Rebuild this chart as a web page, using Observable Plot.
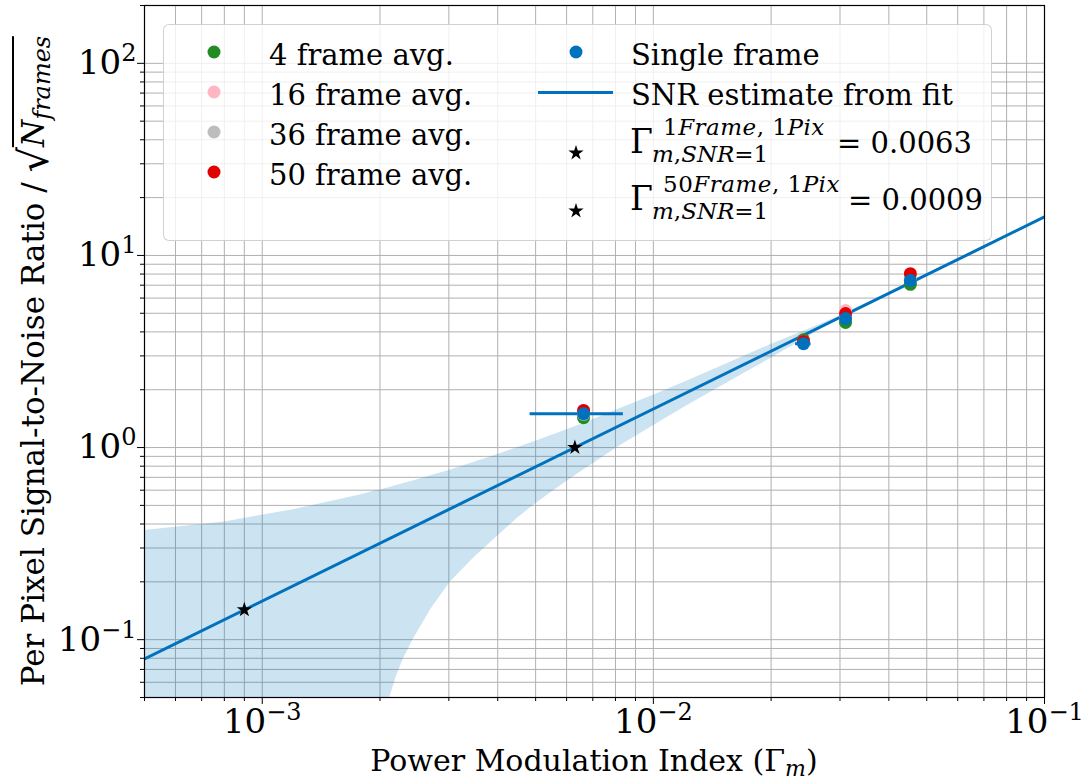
<!DOCTYPE html>
<html>
<head>
<meta charset="utf-8">
<script src="https://cdn.jsdelivr.net/npm/d3@7"></script>
<script src="https://cdn.jsdelivr.net/npm/@observablehq/plot@0.6"></script>
<style>
  body { margin: 0; background: white; }
  #wrap { position: relative; width: 1086px; height: 780px; font-family: 'DejaVu Serif', 'Liberation Serif', serif; color: black; }
  .t { position: absolute; white-space: nowrap; }
  .lg-box { position: absolute; left: 163px; top: 24px; width: 827px; height: 215px;
            background: rgba(255,255,255,0.8); border: 1px solid rgba(204,204,204,0.9); border-radius: 6px; }
  .dotm { position: absolute; width: 13px; height: 13px; border-radius: 50%; transform: translate(-50%,-50%); }
  i { font-style: italic; }
</style>
</head>
<body>
<div id="wrap"><div id="chart"></div></div>
<script>
// ---------------- data ----------------
const gammaPts   = [0.00663, 0.0242, 0.0310, 0.0454];
const snr4       = [1.43, 3.64, 4.48, 7.07];
const snr16      = [1.52, 3.55, 5.17, 7.60];
const snr36      = [1.49, 3.50, 4.75, 7.50];
const snr50      = [1.56, 3.57, 4.98, 8.04];
const snrSingle  = [1.50, 3.47, 4.69, 7.40];
const errLo      = [0.00484, 0.0231, 0.0305, 0.0448];
const errHi      = [0.00838, 0.0253, 0.0315, 0.0460];

const fitGamma = [0.0005, 0.1];
const fitSNR   = [0.0794, 15.87];

const starGamma = [0.0063, 0.0009];
const starSNR   = [1.0, 0.143];

const bandGamma = [0.0005, 0.0008, 0.0012, 0.0016, 0.0018, 0.0019, 0.00195, 0.002, 0.00206, 0.00212,
                   0.0022, 0.0023, 0.00243, 0.0027, 0.00303, 0.0035, 0.0039, 0.0045, 0.005, 0.0058,
                   0.0066, 0.0082, 0.01, 0.012, 0.016, 0.02, 0.022, 0.024, 0.027, 0.03,
                   0.035, 0.04, 0.047, 0.06, 0.08, 0.1];
const bandLow   = [0.001, 0.001, 0.001, 0.001, 0.001, 0.017, 0.025, 0.032, 0.042, 0.05,
                   0.064, 0.08, 0.10, 0.144, 0.2, 0.27, 0.33, 0.43, 0.51, 0.635,
                   0.76, 1.02, 1.3, 1.62, 2.26, 2.92, 3.27, 3.62, 4.15, 4.65,
                   5.47, 6.27, 7.38, 9.44, 12.6, 15.75];
const bandHigh  = [0.37, 0.41, 0.475, 0.54, 0.57, 0.587, 0.595, 0.60, 0.61, 0.62,
                   0.635, 0.65, 0.67, 0.713, 0.765, 0.84, 0.905, 1.0, 1.08, 1.205,
                   1.33, 1.59, 1.87, 2.19, 2.82, 3.44, 3.73, 4.0, 4.42, 4.86,
                   5.63, 6.43, 7.54, 9.6, 12.8, 16.0];

const xMajor = [1e-3, 1e-2, 1e-1];
const yMajor = [0.1, 1, 10, 100];
const xDomain = [5e-4, 0.1];
const yDomain = [0.05, 200];

const seriesNames = ["4 frame avg.", "16 frame avg.", "36 frame avg.", "50 frame avg.", "Single frame"];
const seriesColors = ["#228b22", "#ffb6c1", "#bdbdbd", "#e00000", "#0072bd"];
const blue = "#0072bd";

// ---------------- build ----------------
const FONT = "'DejaVu Serif', 'Liberation Serif', serif";
const xAll = d3.scaleLog().domain(xDomain).ticks();
const yAll = d3.scaleLog().domain(yDomain).ticks();
const xMinor = xAll.filter(v => !xMajor.some(m => Math.abs(m - v) / m < 1e-9));
const yMinor = yAll.filter(v => !yMajor.some(m => Math.abs(m - v) / m < 1e-9));

const band = bandGamma.map((g, i) => ({g, lo: bandLow[i], hi: bandHigh[i]}));
const fit = fitGamma.map((g, i) => ({g, s: fitSNR[i]}));
const stars = starGamma.map((g, i) => ({g, s: starSNR[i]}));
const seriesVals = [snr4, snr16, snr36, snr50, snrSingle];
const pts = seriesVals.map(vals => gammaPts.map((g, i) => ({g, s: vals[i]})));
const errs = gammaPts.map((g, i) => ({lo: errLo[i], hi: errHi[i], s: snrSingle[i]}));

const expFmt = v => "10^" + String(Math.round(Math.log10(v))).replace("-", "\u2212");

const chart = Plot.plot({
  width: 1086, height: 780,
  marginLeft: 144, marginRight: 42, marginTop: 5, marginBottom: 83,
  x: {type: "log", domain: xDomain, label: null},
  y: {type: "log", domain: yDomain, label: null},
  style: {fontFamily: FONT, background: "white", color: "black"},
  marks: [
    Plot.gridX(xAll, {stroke: "#b0b0b0", strokeOpacity: 1, strokeWidth: 1}),
    Plot.gridY(yAll, {stroke: "#b0b0b0", strokeOpacity: 1, strokeWidth: 1}),
    Plot.areaY(band, {x: "g", y1: "lo", y2: "hi", fill: blue, fillOpacity: 0.2, clip: true}),
    Plot.line(fit, {x: "g", y: "s", stroke: blue, strokeWidth: 3, clip: true}),
    Plot.ruleY(errs, {y: "s", x1: "lo", x2: "hi", stroke: blue, strokeWidth: 3}),
    ...pts.map((p, k) => Plot.dot(p, {x: "g", y: "s", r: 6.5, fill: seriesColors[k], stroke: "none"})),
    Plot.dot(stars, {x: "g", y: "s", symbol: "star", r: 4.8, fill: "black", stroke: "none"}),
    Plot.axisX(xMinor, {tickSize: 4, tickFormat: () => "", label: null}),
    Plot.axisY(yMinor, {tickSize: 4, tickFormat: () => "", label: null}),
    Plot.axisX(xMajor, {tickSize: 7, tickPadding: 4, fontSize: 34, tickFormat: expFmt, label: null}),
    Plot.axisY(yMajor, {tickSize: 7, tickPadding: 1, fontSize: 34, tickFormat: expFmt, label: null}),
    Plot.frame({stroke: "black", strokeWidth: 1.2})
  ]
});
document.getElementById("chart").appendChild(chart);

// superscript exponents on tick labels
const ns = "http://www.w3.org/2000/svg";
chart.querySelectorAll('g[aria-label="x-axis tick label"] text, g[aria-label="y-axis tick label"] text').forEach(t => {
  const s = t.textContent;
  if (!s.includes("^")) return;
  const [b, e] = s.split("^");
  t.textContent = "";
  const t1 = document.createElementNS(ns, "tspan"); t1.textContent = b; t.appendChild(t1);
  const t2 = document.createElementNS(ns, "tspan");
  t2.setAttribute("dy", "-13"); t2.setAttribute("font-size", "24"); t2.textContent = e;
  t.appendChild(t2);
});

// ---------------- overlay text: labels and legend ----------------
const wrap = document.getElementById("wrap");
// place a div so that its text baseline lies at `baseline` (DejaVu metrics: ascent .928, descent .236)
function txt(left, baseline, html, fs, extra, lh) {
  lh = lh || 1.2;
  const d = document.createElement("div");
  d.className = "t";
  d.style.fontSize = fs + "px";
  d.style.lineHeight = lh;
  d.style.left = left + "px";
  d.style.top = (baseline - ((lh - 1.164) / 2 + 0.928) * fs) + "px";
  if (extra) Object.assign(d.style, extra);
  d.innerHTML = html;
  wrap.appendChild(d);
  return d;
}

// x label
const xl = txt(594, 771, "Power Modulation Index (\u0393<sub style='font-size:22px;vertical-align:-5px'><i>m</i></sub>)", 30, null, 1.6);
xl.style.transform = "translateX(-50%)";

// y label (rotated)
const yl = document.createElement("div");
yl.className = "t";
Object.assign(yl.style, {fontSize: "31px", lineHeight: "1.6", left: "34px", top: "361px",
  transform: "translate(-50%,-50%) rotate(-90deg)"});
yl.innerHTML = "Per Pixel Signal-to-Noise Ratio / " +
  "<span style='font-size:40px;vertical-align:-4px'>\u221A</span>" +
  "<span style='border-top:2px solid black;padding-top:2px;display:inline-block;line-height:1.1'><i>N</i>" +
  "<sub style='font-size:24px;vertical-align:-6px;line-height:1'><i>frames</i></sub></span>";
wrap.appendChild(yl);

// legend
const box = document.createElement("div"); box.className = "lg-box"; wrap.appendChild(box);
const LFS = 29;
const col1Y = [52, 92, 132, 172];
for (let k = 0; k < 4; k++) {
  const m = document.createElement("div"); m.className = "dotm";
  Object.assign(m.style, {left: "214px", top: col1Y[k] + "px", background: seriesColors[k]});
  wrap.appendChild(m);
  txt(269, col1Y[k] + 13, seriesNames[k], LFS);
}
{
  const m = document.createElement("div"); m.className = "dotm";
  Object.assign(m.style, {left: "576px", top: "52px", background: seriesColors[4]});
  wrap.appendChild(m);
  txt(631, 65, seriesNames[4], LFS);
  const ln = document.createElement("div");
  Object.assign(ln.style, {position: "absolute", left: "538px", top: "90.5px", width: "75px", height: "3px", background: blue});
  wrap.appendChild(ln);
  txt(631, 105, "SNR estimate from fit", LFS);
}
const starPath = d3.symbol(d3.symbolStar, Math.PI * 4.8 * 4.8)();
[153, 211].forEach(cy => {
  const s = document.createElementNS(ns, "svg");
  s.setAttribute("width", "20"); s.setAttribute("height", "20");
  s.setAttribute("viewBox", "-10 -10 20 20");
  Object.assign(s.style, {position: "absolute", left: "566px", top: (cy - 10) + "px"});
  const p = document.createElementNS(ns, "path"); p.setAttribute("d", starPath); p.setAttribute("fill", "black");
  s.appendChild(p); wrap.appendChild(s);
});
const gRows = [
  {base: 153, sup: "1<i>Frame</i>, 1<i>Pix</i>", val: "= 0.0063", valX: 837},
  {base: 210, sup: "50<i>Frame</i>, 1<i>Pix</i>", val: "= 0.0009", valX: 848}
];
gRows.forEach(r => {
  txt(630, r.base, "\u0393", 33);
  txt(663, r.base - 18, r.sup, 23, {letterSpacing: "0.5px"}, 1.0);
  txt(652, r.base + 9, "<i>m</i>,<i>SNR</i>=1", 23, null, 1.0);
  txt(r.valX, r.base, r.val, LFS);
});
</script>
</body>
</html>
